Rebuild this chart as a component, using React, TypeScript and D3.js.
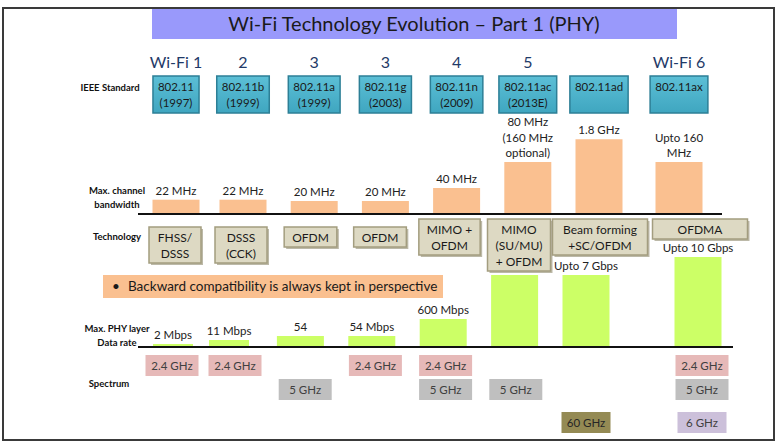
import { useEffect, useRef } from "react";
import * as d3 from "d3";

const title = "Wi-Fi Technology Evolution – Part 1 (PHY)";
const generations = ["Wi-Fi 1", "2", "3", "3", "4", "5", "", "Wi-Fi 6"];
const standards = ["802.11", "802.11b", "802.11a", "802.11g", "802.11n", "802.11ac", "802.11ad", "802.11ax"];
const years = ["(1997)", "(1999)", "(1999)", "(2003)", "(2009)", "(2013E)", "", ""];
const bandwidthLabels = [
  ["22 MHz"],
  ["22 MHz"],
  ["20 MHz"],
  ["20 MHz"],
  ["40 MHz"],
  ["80 MHz", "(160 MHz", "optional)"],
  ["1.8 GHz"],
  ["Upto 160", "MHz"],
];
// bar heights on the slide's own (schematic, not to scale) bandwidth axis
const bandwidthBars = [22, 22, 20, 20, 40, 80, 115, 80];
const technologies = [
  ["FHSS/", "DSSS"],
  ["DSSS", "(CCK)"],
  ["OFDM"],
  ["OFDM"],
  ["MIMO +", "OFDM"],
  ["MIMO", "(SU/MU)", "+ OFDM"],
  ["Beam forming", "+SC/OFDM"],
  ["OFDMA"],
];
const rateLabels = ["2 Mbps", "11 Mbps", "54", "54 Mbps", "600 Mbps", "", "Upto 7 Gbps", "Upto 10 Gbps"];
// schematic data-rate bar heights as drawn on the slide
const rateBars = [3, 7, 11, 11, 28, 72, 72, 90];
const spectrum = [
  ["2.4 GHz"],
  ["2.4 GHz"],
  ["5 GHz"],
  ["2.4 GHz"],
  ["2.4 GHz", "5 GHz"],
  ["5 GHz"],
  ["60 GHz"],
  ["2.4 GHz", "5 GHz", "6 GHz"],
];
const bands = ["2.4 GHz", "5 GHz", "6 GHz", "60 GHz"];
const bandColors = ["#e6b9b8", "#bfbfbf", "#ccc0da", "#948a54"];
const note = "Backward compatibility is always kept in perspective";

export default function App() {
  const svgRef = useRef<SVGSVGElement>(null);

  useEffect(() => {
    const width = 780;
    const height = 442;
    const font = "Lato, 'Open Sans', sans-serif";
    const idx = d3.range(standards.length);

    const svg = d3.select(svgRef.current).attr("width", width).attr("height", height);
    svg.selectAll("*").remove();

    // column positions (the slide's columns are not evenly spaced)
    const xTop = d3.scaleLinear().domain([0, 1, 6, 7]).range([176, 243, 599, 679]);
    const xTech = d3.scaleLinear().domain([0, 1, 5, 6, 7]).range([175, 241, 519, 600, 700]);
    const xLow = d3.scaleLinear().domain([0, 1, 6, 7]).range([173, 229, 586, 698]);
    const xSpec = d3.scaleLinear().domain([0, 1, 6, 7]).range([172, 235, 586, 702]);
    const yBw = d3.scaleLinear().domain([0, 80]).range([214, 162]);
    const yRate = d3.scaleLinear().domain([0, 90]).range([347, 257]);
    const ySpec = d3.scaleLinear().domain([0, 1, 2]).range([355, 379, 412]);
    const bandColor = d3.scaleOrdinal<string, string>().domain(bands).range(bandColors);
    const bandRow = (b: string) => Math.min(bands.indexOf(b), 2);

    const defs = svg.append("defs");
    const grad = defs
      .append("linearGradient")
      .attr("id", "teal")
      .attr("x1", 0)
      .attr("y1", 0)
      .attr("x2", 0)
      .attr("y2", 1);
    grad.append("stop").attr("offset", "0%").attr("stop-color", "#5cbfd6");
    grad.append("stop").attr("offset", "100%").attr("stop-color", "#3fa6c0");

    // frame + title
    svg
      .append("rect")
      .attr("x", 3)
      .attr("y", 8)
      .attr("width", 771)
      .attr("height", 432)
      .attr("fill", "#fff")
      .attr("stroke", "#3a3a3a")
      .attr("stroke-width", 2);
    svg
      .append("rect")
      .attr("x", 152)
      .attr("y", 9)
      .attr("width", 525)
      .attr("height", 30)
      .attr("fill", "#9999fb");
    svg
      .append("text")
      .attr("x", 414)
      .attr("y", 31)
      .attr("text-anchor", "middle")
      .attr("font-family", font)
      .attr("font-size", 20)
      .attr("fill", "#1a1a1a")
      .text(title);

    // row labels
    const rowLabels: [string[], number, number][] = [
      [["IEEE Standard"], 110, 91],
      [["Max. channel", "bandwidth"], 117, 194],
      [["Technology"], 117, 240],
      [["Max. PHY layer", "Data rate"], 117, 332],
      [["Spectrum"], 109, 387],
    ];
    rowLabels.forEach(([lines, x, y]) => {
      svg
        .append("text")
        .attr("font-family", font)
        .attr("font-size", 9.5)
        .attr("font-weight", "bold")
        .attr("text-anchor", "middle")
        .attr("fill", "#111")
        .selectAll("tspan")
        .data(lines)
        .join("tspan")
        .attr("x", x)
        .attr("y", (_, j) => y + j * 13.5)
        .text((d) => d);
    });

    // generation names
    svg
      .selectAll("text.gen")
      .data(idx)
      .join("text")
      .attr("class", "gen")
      .attr("x", (i) => xTop(i))
      .attr("y", 68)
      .attr("text-anchor", "middle")
      .attr("font-family", font)
      .attr("font-size", 16)
      .attr("fill", "#1f3a68")
      .text((i) => generations[i]);

    // IEEE standard boxes
    idx.forEach((i) => {
      const g = svg.append("g");
      const lines = [standards[i], years[i]].filter((d) => d);
      const rect = g.append("rect");
      const t = g
        .append("text")
        .attr("text-anchor", "middle")
        .attr("font-family", font)
        .attr("font-size", 11.5)
        .attr("fill", "#1a1a1a");
      t.selectAll("tspan")
        .data(lines)
        .join("tspan")
        .attr("x", xTop(i))
        .attr("y", (_, j) => 91 + j * 16)
        .text((d) => d);
      const w = Math.max(44, (t.node() as SVGTextElement).getBBox().width + 10);
      rect
        .attr("x", xTop(i) - w / 2)
        .attr("y", 76)
        .attr("width", w)
        .attr("height", 37)
        .attr("fill", "url(#teal)")
        .attr("stroke", "#2d7f96")
        .attr("stroke-width", 1.5);
    });

    // bandwidth bars
    svg
      .selectAll("rect.bw")
      .data(idx)
      .join("rect")
      .attr("class", "bw")
      .attr("x", (i) => xTop(i) - 23.5)
      .attr("y", (i) => yBw(bandwidthBars[i]))
      .attr("width", 47)
      .attr("height", (i) => yBw(0) - yBw(bandwidthBars[i]))
      .attr("fill", "#fac090");
    idx.forEach((i) => {
      const lines = bandwidthLabels[i];
      const top = yBw(bandwidthBars[i]) - 5;
      svg
        .append("text")
        .attr("text-anchor", "middle")
        .attr("font-family", font)
        .attr("font-size", 11.5)
        .attr("fill", "#222")
        .selectAll("tspan")
        .data(lines)
        .join("tspan")
        .attr("x", xTop(i))
        .attr("y", (_, j) => top - (lines.length - 1 - j) * 15.5)
        .text((d) => d);
    });
    svg
      .append("line")
      .attr("x1", 138)
      .attr("x2", 722)
      .attr("y1", yBw(0))
      .attr("y2", yBw(0))
      .attr("stroke", "#111")
      .attr("stroke-width", 2);

    // technology boxes
    idx.forEach((i) => {
      const lines = technologies[i];
      const top = i < 4 ? 227 : 219;
      const h = lines.length * 16 + 4;
      const g = svg.append("g");
      const shadow = g.append("rect");
      const rect = g.append("rect");
      const t = g
        .append("text")
        .attr("text-anchor", "middle")
        .attr("font-family", font)
        .attr("font-size", 12)
        .attr("fill", "#1a1a1a");
      t.selectAll("tspan")
        .data(lines)
        .join("tspan")
        .attr("x", xTech(i))
        .attr("y", (_, j) => top + 15 + j * 16)
        .text((d) => d);
      const w = Math.max(i >= 6 ? 95 : 52, (t.node() as SVGTextElement).getBBox().width + 16);
      shadow
        .attr("x", xTech(i) - w / 2 + 2)
        .attr("y", top + 2)
        .attr("width", w)
        .attr("height", h)
        .attr("fill", "#8f8a6e")
        .attr("opacity", 0.6);
      rect
        .attr("x", xTech(i) - w / 2)
        .attr("y", top)
        .attr("width", w)
        .attr("height", h)
        .attr("fill", "#ddd9c3")
        .attr("stroke", "#a39d7f")
        .attr("stroke-width", 1.5);
    });

    // backward compatibility note
    svg
      .append("rect")
      .attr("x", 103)
      .attr("y", 275)
      .attr("width", 340)
      .attr("height", 23)
      .attr("fill", "#fac090");
    svg
      .append("text")
      .attr("x", 112)
      .attr("y", 291)
      .attr("font-family", font)
      .attr("font-size", 13.5)
      .attr("fill", "#1a1a1a")
      .text("•");
    svg
      .append("text")
      .attr("x", 128)
      .attr("y", 291)
      .attr("font-family", font)
      .attr("font-size", 13.5)
      .attr("fill", "#1a1a1a")
      .text(note);

    // data-rate bars
    svg
      .selectAll("rect.rate")
      .data(idx)
      .join("rect")
      .attr("class", "rate")
      .attr("x", (i) => xLow(i) - (i < 2 ? 20 : 23.5))
      .attr("y", (i) => yRate(rateBars[i]))
      .attr("width", (i) => (i < 2 ? 40 : 47))
      .attr("height", (i) => yRate(0) - yRate(rateBars[i]))
      .attr("fill", "#ccff66");
    svg
      .selectAll("text.rate")
      .data(idx)
      .join("text")
      .attr("class", "rate")
      .attr("x", (i) => xLow(i))
      .attr("y", (i) => yRate(rateBars[i]) - 5)
      .attr("text-anchor", "middle")
      .attr("font-family", font)
      .attr("font-size", 11.5)
      .attr("fill", "#222")
      .text((i) => rateLabels[i]);
    svg
      .append("line")
      .attr("x1", 138)
      .attr("x2", 733)
      .attr("y1", yRate(0))
      .attr("y2", yRate(0))
      .attr("stroke", "#111")
      .attr("stroke-width", 2);

    // spectrum boxes
    const cells = idx.flatMap((i) => spectrum[i].map((b) => ({ i, b })));
    const cell = svg.selectAll("g.spec").data(cells).join("g").attr("class", "spec");
    cell
      .append("rect")
      .attr("x", (d) => xSpec(d.i) - (bandRow(d.b) === 2 ? 24.5 : 26.5))
      .attr("y", (d) => ySpec(bandRow(d.b)))
      .attr("width", (d) => (bandRow(d.b) === 2 ? 49 : 53))
      .attr("height", 21)
      .attr("fill", (d) => bandColor(d.b));
    cell
      .append("text")
      .attr("x", (d) => xSpec(d.i))
      .attr("y", (d) => ySpec(bandRow(d.b)) + 15)
      .attr("text-anchor", "middle")
      .attr("font-family", font)
      .attr("font-size", 11.5)
      .attr("fill", (d) => (d.b === "60 GHz" ? "#262626" : "#404040"))
      .text((d) => d.b);
  }, []);

  return <svg ref={svgRef} style={{ position: "absolute", left: 0, top: 0 }}></svg>;
}
